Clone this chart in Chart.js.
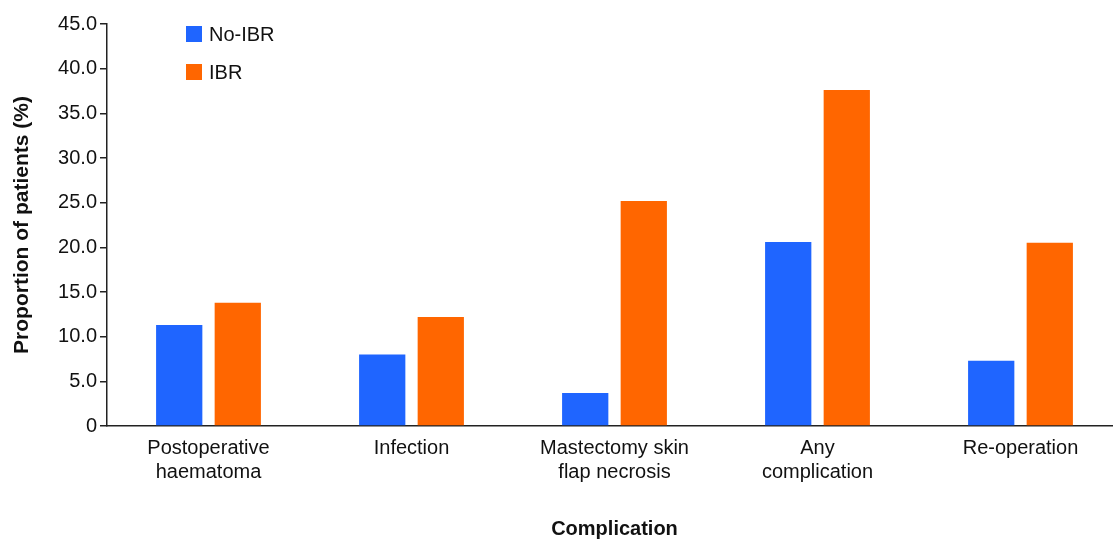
<!DOCTYPE html>
<html>
<head>
<meta charset="utf-8">
<script src="https://cdn.jsdelivr.net/npm/chart.js@4"></script>
<style>
  html, body { margin: 0; padding: 0; background: #fff; overflow: hidden; }
  /* the original plot runs a little past the right edge of the image */
  #wrap { width: 1122px; height: 539px; }
</style>
</head>
<body>
<div id="wrap"><canvas id="complicationsChart"></canvas></div>
<script>
const categories = [
  ["Postoperative", "haematoma"],
  "Infection",
  ["Mastectomy skin", "flap necrosis"],
  ["Any", "complication"],
  "Re-operation",
];
const noIbr = [11.3, 8.0, 3.7, 20.6, 7.3];
const ibr = [13.8, 12.2, 25.2, 37.6, 20.5];
const yTicks = [0, 5, 10, 15, 20, 25, 30, 35, 40, 45];

const FONT = "'Liberation Sans', Arial, sans-serif";
const TEXT = "#111";
const SIZE = 20;

// legend drawn by hand so it sits inside the plot like the original
const legendBoxes = {
  id: "legendBoxes",
  afterDraw(chart) {
    const c = chart.ctx;
    c.save();
    c.font = SIZE + "px " + FONT;
    c.textBaseline = "middle";
    chart.data.datasets.forEach((ds, i) => {
      const y = 34 + i * 38;
      c.fillStyle = ds.backgroundColor;
      c.fillRect(186, y - 8, 16, 16);
      c.fillStyle = TEXT;
      c.fillText(ds.label, 209, y + 1);
    });
    c.restore();
  },
};

new Chart(document.getElementById("complicationsChart"), {
  type: "bar",
  data: {
    labels: categories,
    datasets: [
      { label: "No-IBR", data: noIbr, backgroundColor: "#1f65ff" },
      { label: "IBR", data: ibr, backgroundColor: "#ff6600" },
    ],
  },
  options: {
    responsive: true,
    maintainAspectRatio: false,
    animation: false,
    layout: { padding: { top: 24, right: 0, left: 0, bottom: 0 } },
    datasets: {
      bar: { categoryPercentage: 0.577, barPercentage: 0.79 },
    },
    plugins: {
      legend: { display: false },
      tooltip: { enabled: false },
    },
    scales: {
      x: {
        grid: { display: false, drawTicks: false },
        border: { color: "#222", width: 1.5 },
        ticks: {
          color: TEXT,
          padding: 10,
          maxRotation: 0,
          font: { family: FONT, size: SIZE, lineHeight: 1.2 },
        },
        title: {
          display: true,
          text: "Complication",
          color: TEXT,
          padding: { top: 0, bottom: 0 },
          font: { family: FONT, size: SIZE, weight: "bold", lineHeight: 1.0 },
        },
        afterFit(scale) { scale.height = 113; },
      },
      y: {
        min: 0,
        max: 45,
        afterBuildTicks(scale) {
          scale.ticks = yTicks.map((v) => ({ value: v }));
        },
        grid: {
          drawOnChartArea: false,
          drawTicks: true,
          tickLength: 7,
          color: "#222",
          lineWidth: 1.5,
        },
        border: { color: "#222", width: 1.5 },
        ticks: {
          color: TEXT,
          padding: 3,
          font: { family: FONT, size: SIZE },
          callback: (v) => (v === 0 ? "0" : v.toFixed(1)),
        },
        title: {
          display: true,
          text: "Proportion of patients (%)",
          color: TEXT,
          padding: { top: 10, bottom: 0 },
          font: { family: FONT, size: 21, weight: "bold" },
        },
        afterFit(scale) { scale.width = 107; },
      },
    },
  },
  plugins: [legendBoxes],
});
</script>
</body>
</html>
